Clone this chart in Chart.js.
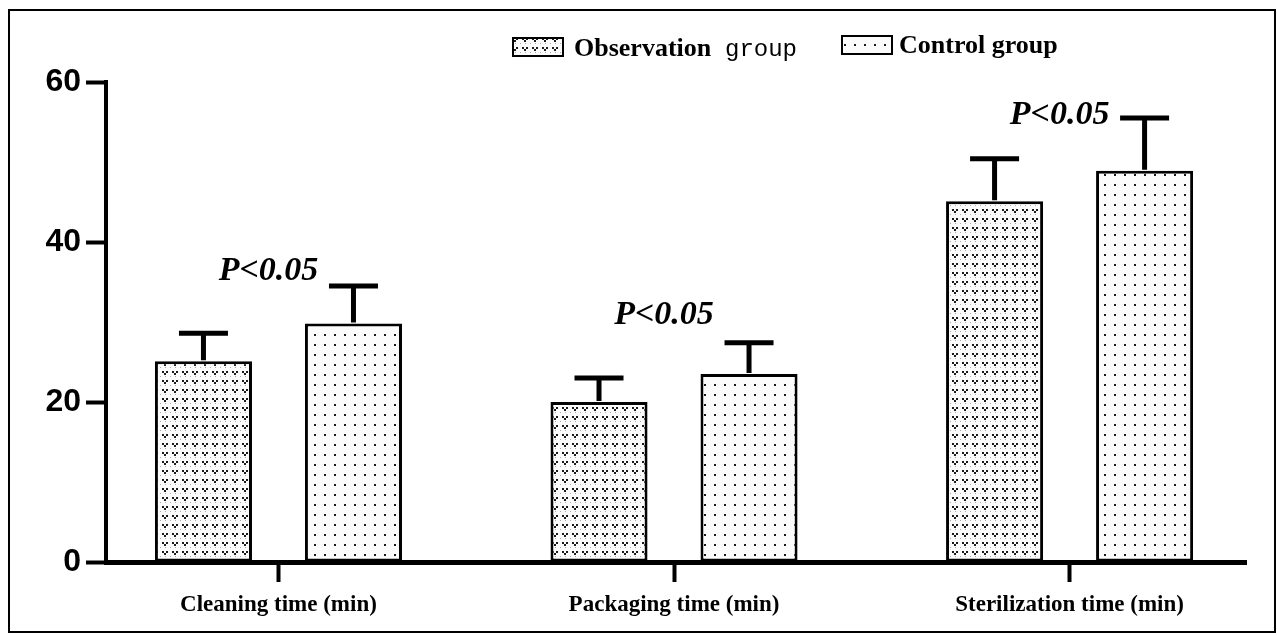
<!DOCTYPE html>
<html>
<head>
<meta charset="utf-8">
<script src="https://cdn.jsdelivr.net/npm/chart.js@4.4.1/dist/chart.umd.min.js"></script>
<style>
  body { margin: 0; background: #fff; }
  canvas { display: block; }
</style>
</head>
<body>
<canvas id="myChart" width="1277" height="635"></canvas>
<script>
const categories = ["Cleaning time (min)", "Packaging time (min)", "Sterilization time (min)"];
const obsMean = [25.1, 20.0, 45.1];
const obsSD = [3.5, 3.0, 5.3];
const ctrlMean = [29.8, 23.5, 48.9];
const ctrlSD = [4.7, 3.9, 6.6];
const yTicks = [0, 20, 40, 60];
const pText = ["P<0.05", "P<0.05", "P<0.05"];
const pHeight = [36.4, 30.9, 55.8]; // label heights in axis units

const canvas = document.getElementById("myChart");
const ctx = canvas.getContext("2d");

// bar fill textures
function makePattern(kind) {
  const c = document.createElement("canvas");
  c.width = 10;
  c.height = kind === "v" ? 9 : 10;
  const g = c.getContext("2d");
  g.fillStyle = "#fbfbfb";
  g.fillRect(0, 0, c.width, c.height);
  g.fillStyle = "#1a1a1a";
  if (kind === "v") {
    g.fillRect(2, 2, 2, 2);
    g.fillRect(6, 2, 2, 2);
    g.fillRect(4, 4, 2, 2);
    g.fillStyle = "#aaa";
    g.fillRect(0, 7, 1, 1);
    g.fillRect(5, 7, 1, 1);
  } else {
    g.fillRect(4, 4, 2, 2);
  }
  return ctx.createPattern(c, "repeat");
}
const obsFill = makePattern("v");
const ctrlFill = makePattern("dot");

const errorBars = {
  id: "errorBars",
  afterDatasetsDraw(chart) {
    const y = chart.scales.y;
    const c = chart.ctx;
    const sets = [[obsMean, obsSD], [ctrlMean, ctrlSD]];
    c.save();
    c.strokeStyle = "#000";
    c.lineWidth = 5;
    sets.forEach((s, i) => {
      chart.getDatasetMeta(i).data.forEach((bar, j) => {
        const top = y.getPixelForValue(s[0][j] + s[1][j]);
        c.beginPath();
        c.moveTo(bar.x, bar.y - 1);
        c.lineTo(bar.x, top);
        c.moveTo(bar.x - 24.5, top);
        c.lineTo(bar.x + 24.5, top);
        c.stroke();
      });
    });
    c.restore();
  }
};

const extras = {
  id: "extras",
  afterDraw(chart) {
    const c = chart.ctx;
    const x = chart.scales.x;
    const y = chart.scales.y;
    c.save();
    // P values
    c.fillStyle = "#000";
    c.font = "italic bold 34px 'Liberation Serif'";
    c.textAlign = "center";
    c.textBaseline = "middle";
    pText.forEach((t, i) => {
      c.fillText(t, x.getPixelForValue(i) - 10, y.getPixelForValue(pHeight[i]));
    });

    // legend
    c.lineWidth = 2;
    c.strokeStyle = "#000";
    c.fillStyle = obsFill;
    c.fillRect(513, 38, 50, 18);
    c.strokeRect(513, 38, 50, 18);
    c.fillStyle = ctrlFill;
    c.fillRect(842, 36, 50, 18);
    c.strokeRect(842, 36, 50, 18);
    c.fillStyle = "#000";
    c.textAlign = "left";
    c.textBaseline = "alphabetic";
    c.font = "bold 26px 'Liberation Serif'";
    c.fillText("Observation", 574, 56);
    c.font = "24px 'Liberation Mono'";
    c.fillText("group", 725, 56);
    c.font = "bold 26px 'Liberation Serif'";
    c.fillText("Control group", 899, 53);

    // frame
    c.lineWidth = 2;
    c.strokeRect(9, 10, 1266, 622);
    c.restore();
  }
};

const myChart = new Chart(ctx, {
  type: "bar",
  data: {
    datasets: [
      {
        label: "Observation group",
        data: obsMean.map((v, i) => ({ x: i, y: v })),
        backgroundColor: obsFill,
        borderColor: "#000",
        borderWidth: 3,
        borderSkipped: false
      },
      {
        label: "Control group",
        data: ctrlMean.map((v, i) => ({ x: i, y: v })),
        backgroundColor: ctrlFill,
        borderColor: "#000",
        borderWidth: 3,
        borderSkipped: false
      }
    ]
  },
  options: {
    responsive: false,
    animation: false,
    devicePixelRatio: 1,
    categoryPercentage: 0.7585,
    barPercentage: 0.647,
    layout: { padding: { left: 0, right: 31, top: 82, bottom: 0 } },
    plugins: {
      legend: { display: false },
      tooltip: { enabled: false }
    },
    scales: {
      x: {
        type: "linear",
        offset: false,
        min: -0.436,
        max: 2.446,
        afterBuildTicks: s => { s.ticks = categories.map((c, i) => ({ value: i })); },
        afterFit: s => { s.height = 73; },
        grid: {
          offset: false,
          drawOnChartArea: false,
          tickLength: 20,
          tickWidth: 4,
          tickColor: "#000"
        },
        border: { display: true, color: "#000", width: 5 },
        ticks: {
          color: "#000",
          padding: 9,
          maxRotation: 0,
          autoSkip: false,
          font: { family: "Liberation Serif", size: 23, weight: "bold" },
          callback: v => categories[v]
        }
      },
      y: {
        min: 0,
        max: 60,
        afterBuildTicks: s => { s.ticks = yTicks.map(v => ({ value: v })); },
        afterFit: s => { s.width = 106; },
        grid: {
          drawOnChartArea: false,
          tickLength: 20,
          tickWidth: 4,
          tickColor: "#000"
        },
        border: { display: true, color: "#000", width: 4 },
        ticks: {
          color: "#000",
          padding: 5,
          font: { family: "Liberation Sans", size: 32, weight: "bold" }
        }
      }
    }
  },
  plugins: [errorBars, extras]
});
</script>
</body>
</html>
